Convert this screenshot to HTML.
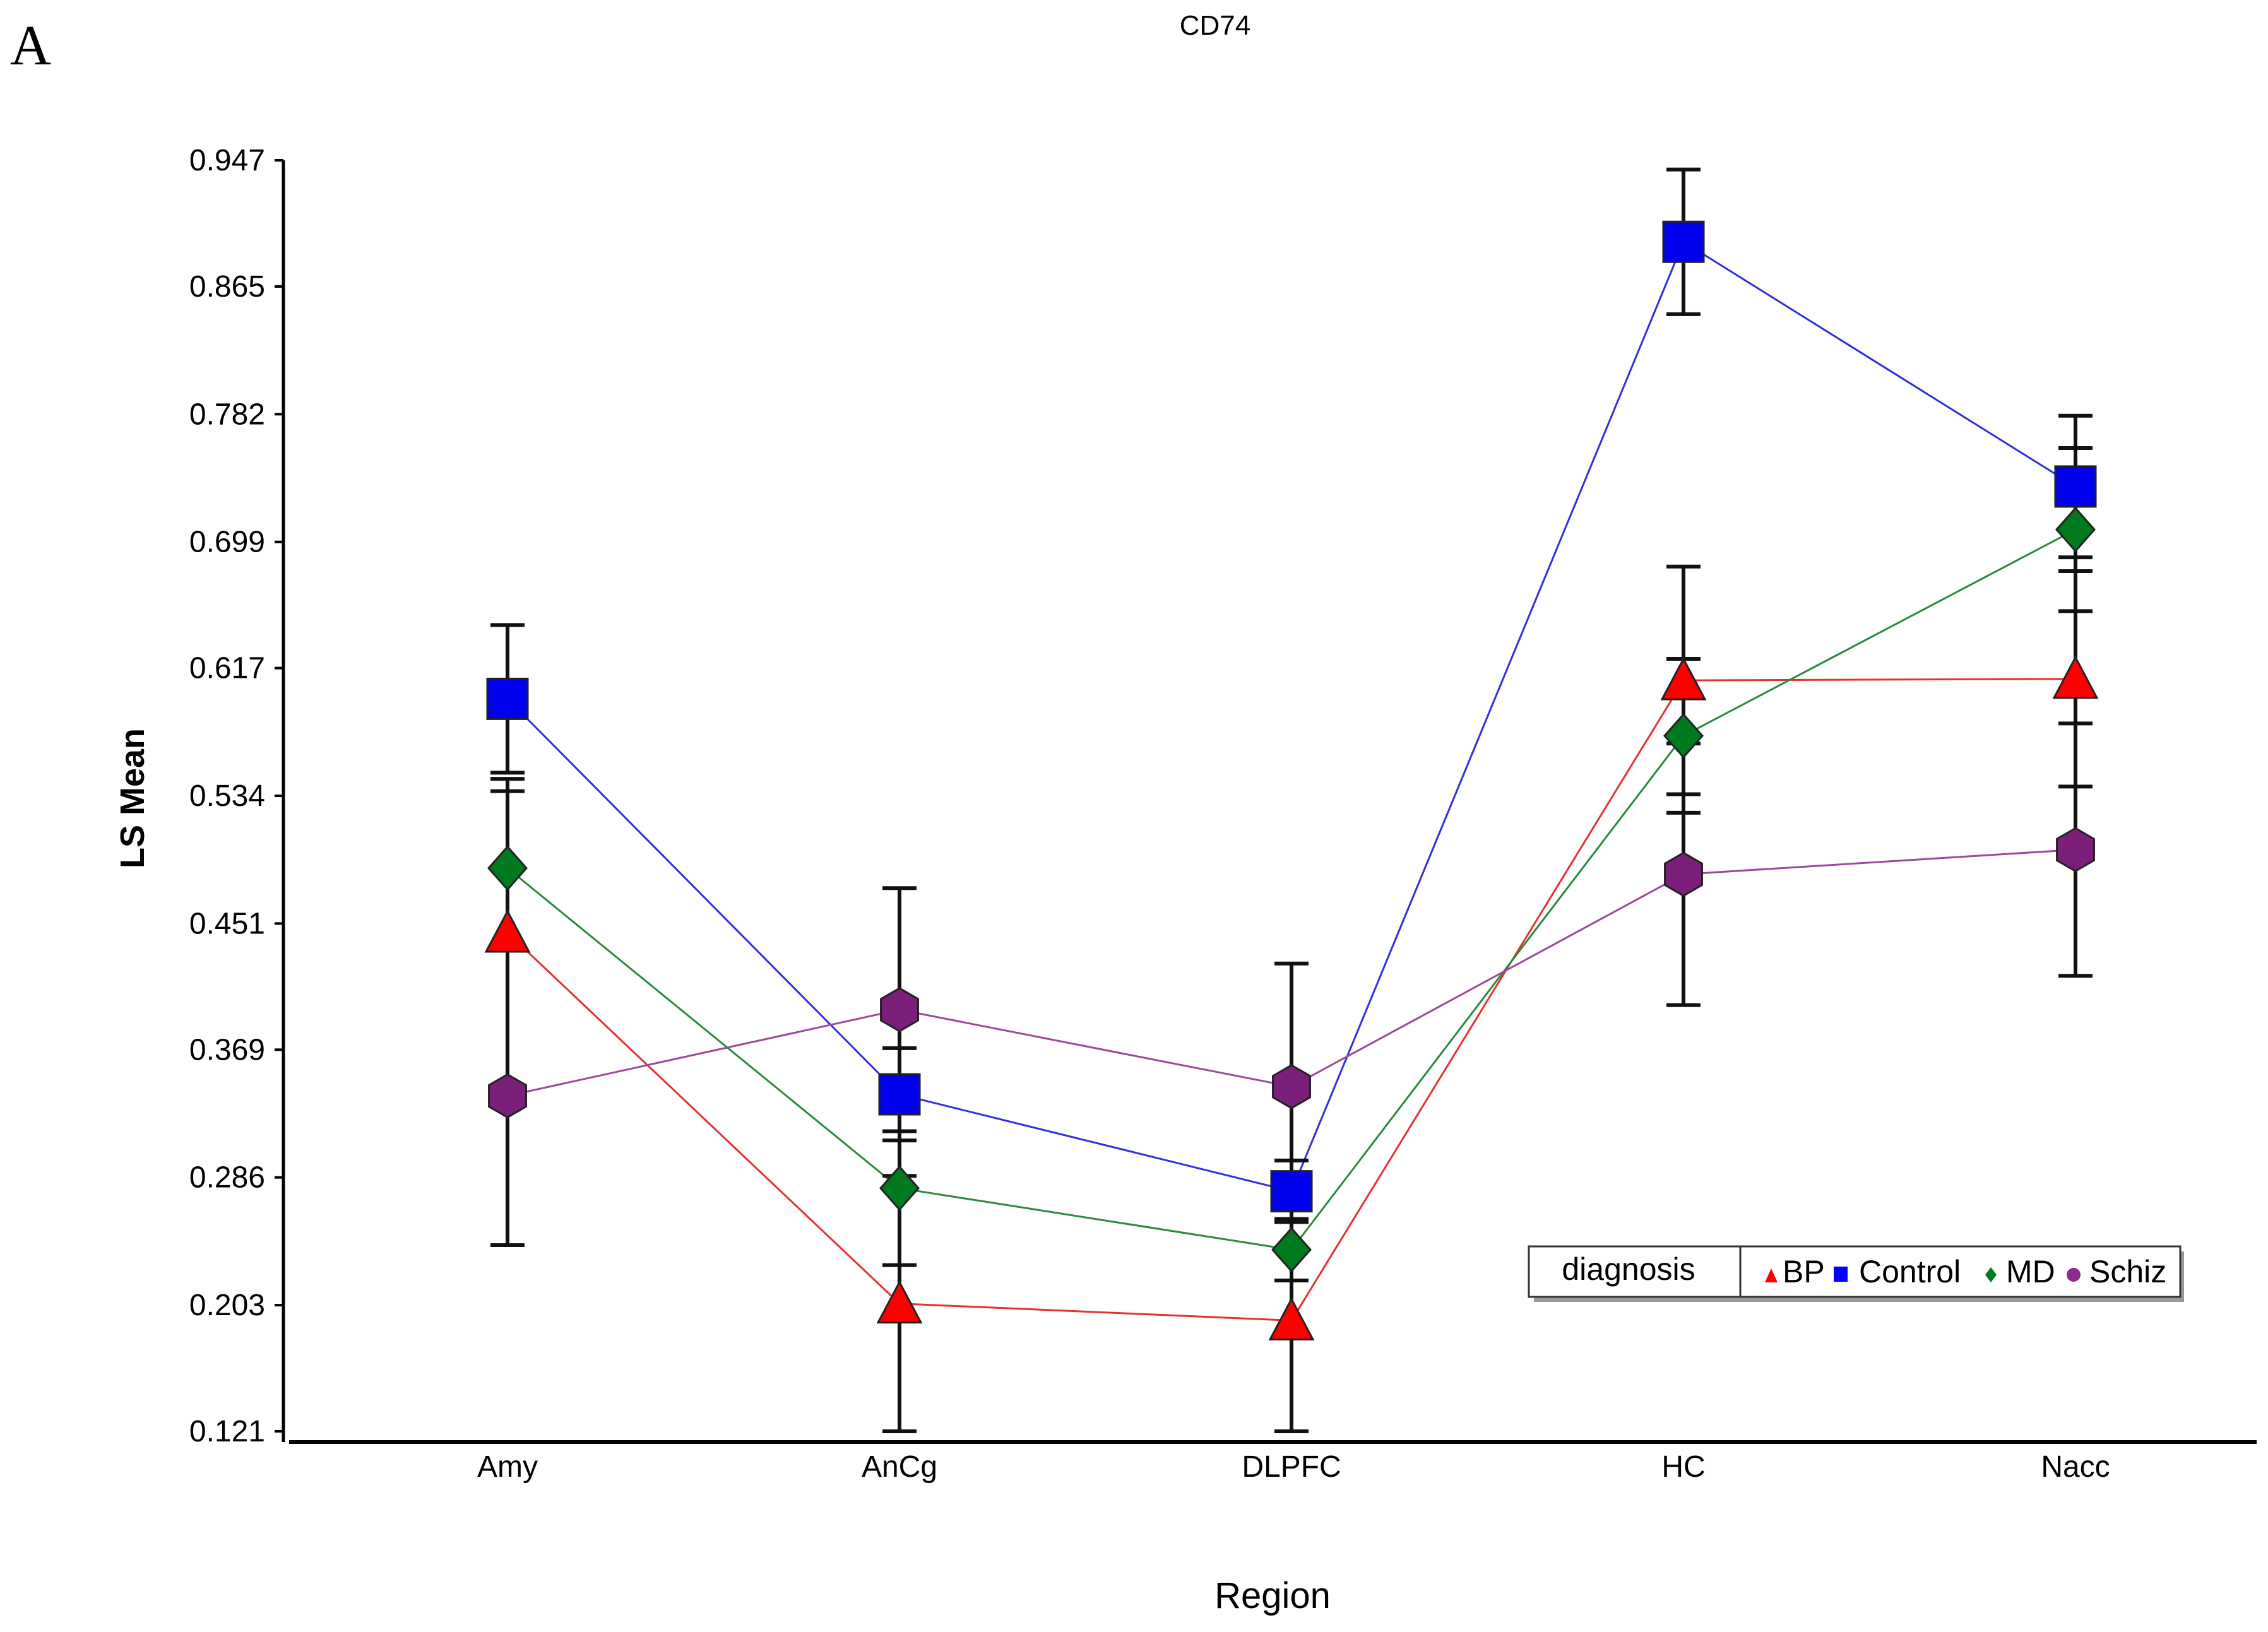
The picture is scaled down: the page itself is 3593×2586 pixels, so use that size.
<!DOCTYPE html>
<html><head><meta charset="utf-8"><style>
html,body{margin:0;padding:0;background:#fff}
svg{display:block}
text{font-family:"Liberation Sans",sans-serif}
</style></head><body>
<svg id="chart" width="3593" height="2586" viewBox="0 0 3593 2586" xmlns="http://www.w3.org/2000/svg">
<text x="16" y="102" style="font-family:'Liberation Serif',serif" font-size="90">A</text>
<text x="1925" y="55" font-size="44" text-anchor="middle">CD74</text>
<text transform="translate(228,1265) rotate(-90)" font-size="54" font-weight="bold" text-anchor="middle">LS Mean</text>
<text x="2016" y="2548" font-size="58" text-anchor="middle">Region</text>
<g id="axes"></g>
<g id="series"></g>
<g id="legend">
<rect x="2430" y="1983" width="1030" height="80" fill="#999"/>
<rect x="2422" y="1975" width="1032" height="80" fill="#fff" stroke="#333" stroke-width="3"/>
<line x1="2757" y1="1975" x2="2757" y2="2055" stroke="#333" stroke-width="3"/>
<text x="2580" y="2028" font-size="50" text-anchor="middle">diagnosis</text>
<polygon points="2796,2032 2806,2010 2816,2032" fill="#f00"/>
<text x="2824" y="2032" font-size="50">BP</text>
<rect x="2905" y="2007" width="22" height="24" fill="#00f"/>
<text x="2945" y="2032" font-size="50">Control</text>
<polygon points="3154,2008 3163,2020 3154,2032 3145,2020" fill="#007a1e"/>
<text x="3178" y="2032" font-size="50">MD</text>
<circle cx="3285" cy="2020" r="11" fill="#8b2a8b"/>
<text x="3310" y="2032" font-size="50">Schiz</text>
</g>
</svg>
<script>
const categories = ["Amy","AnCg","DLPFC","HC","Nacc"];
const yTicks = [0.121,0.203,0.286,0.369,0.451,0.534,0.617,0.699,0.782,0.865,0.947];
const bpMean = [0.445,0.204,0.193,0.609,0.610];
const bpErr = [0.100,0.083,0.072,0.074,0.070];
const controlMean = [0.597,0.340,0.277,0.894,0.735];
const controlErr = [0.048,0.030,0.020,0.047,0.046];
const mdMean = [0.487,0.279,0.239,0.573,0.707];
const mdErr = [0.050,0.050,0.020,0.050,0.053];
const schizMean = [0.339,0.395,0.345,0.483,0.499];
const schizErr = [0.097,0.079,0.080,0.085,0.082];

const NS='http://www.w3.org/2000/svg';
const x0=804, dx=621;
function xs(i){return x0+i*dx;}
function ys(v){return 2268-(v-0.121)/(0.947-0.121)*(2268-254);}
function mk(tag,attrs,parent){const e=document.createElementNS(NS,tag);for(const k in attrs)e.setAttribute(k,attrs[k]);parent.appendChild(e);return e;}
const axes=document.getElementById('axes'), ser=document.getElementById('series');

let l=mk('line',{x1:449,y1:254,x2:449,y2:2285,stroke:'#000','stroke-width':5},axes);


l=mk('line',{x1:458,y1:2285,x2:3575,y2:2285,stroke:'#000','stroke-width':6},axes);


yTicks.forEach(function(t){
  const y=ys(t);
  const tk=mk('line',{x1:435,y1:y,x2:449,y2:y,stroke:'#000','stroke-width':4},axes);
  
  
  const tx=mk('text',{x:420,y:y+16,'font-size':48,'text-anchor':'end'},axes);
  tx.textContent=t.toFixed(3);
  
  
});
categories.forEach(function(c,i){
  const tx=mk('text',{x:xs(i),y:2340,'font-size':48,'text-anchor':'middle'},axes);
  tx.textContent=c;
  
  
});

const seriesList=[
 {name:'bp',mean:bpMean,err:bpErr,color:'#f00',line:'#e83030',shape:'tri'},
 {name:'control',mean:controlMean,err:controlErr,color:'#0000ee',line:'#3030e0',shape:'sq'},
 {name:'md',mean:mdMean,err:mdErr,color:'#007a1e',line:'#2a8a3e',shape:'dia'},
 {name:'schiz',mean:schizMean,err:schizErr,color:'#7a1f7a',line:'#9a4a9a',shape:'hex'}
];
seriesList.forEach(function(s){
  const pts=s.mean.map(function(v,i){return xs(i)+','+ys(v);}).join(' ');
  const pl=mk('polyline',{points:pts,fill:'none',stroke:s.line,'stroke-width':3},ser);
  
  
});
seriesList.forEach(function(s){
  s.mean.forEach(function(v,i){
    const x=xs(i), yt=ys(v+s.err[i]), yb=ys(v-s.err[i]);
    const g=mk('g',{stroke:'#111','stroke-width':6},ser);
    
    
    mk('line',{x1:x,y1:yt,x2:x,y2:yb},g);
    mk('line',{x1:x-27,y1:yt,x2:x+27,y2:yt},g);
    mk('line',{x1:x-27,y1:yb,x2:x+27,y2:yb},g);
  });
});
seriesList.forEach(function(s){
  s.mean.forEach(function(v,i){
    const x=xs(i), y=ys(v); let m;
    const st={fill:s.color,stroke:'#222','stroke-width':3};
    if(s.shape==='sq'){m=mk('rect',Object.assign({x:x-32,y:y-32,width:64,height:64},st),ser);}
    else if(s.shape==='tri'){m=mk('polygon',Object.assign({points:(x-34)+','+(y+30)+' '+x+','+(y-34)+' '+(x+34)+','+(y+30)},st),ser);}
    else if(s.shape==='dia'){m=mk('polygon',Object.assign({points:x+','+(y-34)+' '+(x+30)+','+y+' '+x+','+(y+34)+' '+(x-30)+','+y},st),ser);}
    else {const r=34,p=[];for(let k=0;k<6;k++){const a=Math.PI/6+k*Math.PI/3;p.push((x+r*Math.cos(a))+','+(y+r*Math.sin(a)));}m=mk('polygon',Object.assign({points:p.join(' ')},st),ser);}
    
    
  });
});
</script>
</body></html>
